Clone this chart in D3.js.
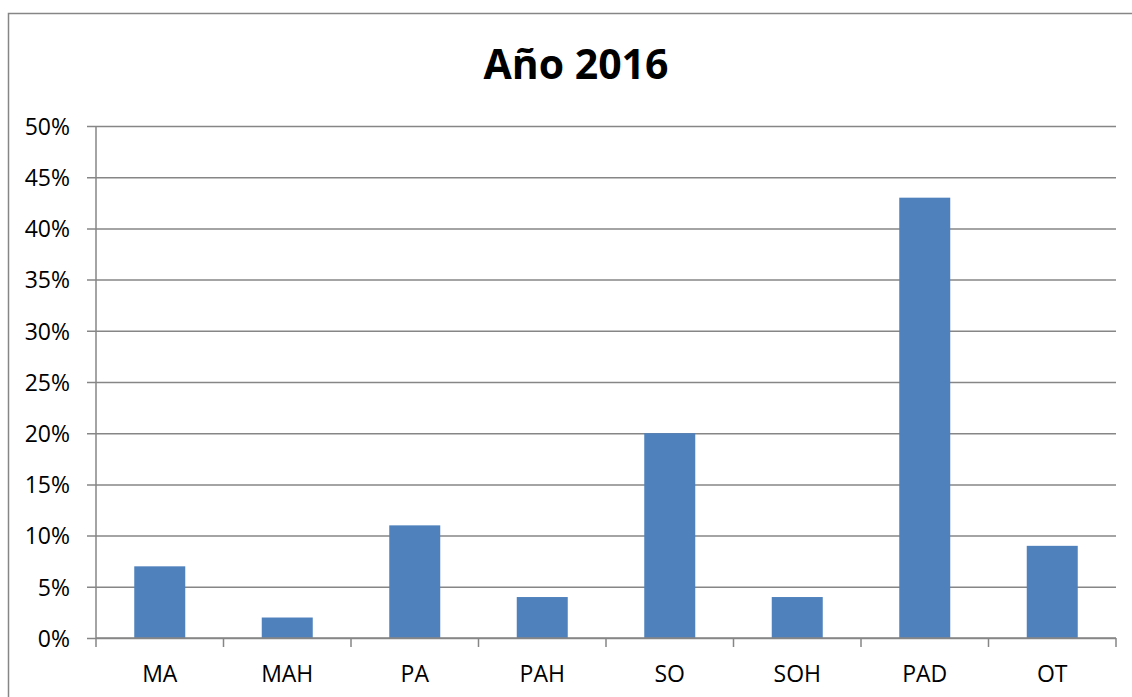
<!DOCTYPE html>
<html>
<head>
<meta charset="utf-8">
<script src="https://cdn.jsdelivr.net/npm/d3@7"></script>
<style>
  html, body { margin: 0; padding: 0; background: #ffffff; overflow: hidden; }
  svg { display: block; }
  svg text { font-family: "Open Sans", Lato, sans-serif; fill: #000; }
</style>
</head>
<body>
<div id="chart"></div>
<script>
var categories = ["MA", "MAH", "PA", "PAH", "SO", "SOH", "PAD", "OT"];
var values = [7, 2, 11, 4, 20, 4, 43, 9];
var yTicks = [0, 5, 10, 15, 20, 25, 30, 35, 40, 45, 50];
var title = "Año 2016";

var width = 1132,
    height = 697,
    gridColor = "#868686",
    barColor = "#4F81BD";

var plot = { left: 96, right: 1116, top: 126, bottom: 638 };

var svg = d3.select("#chart")
    .append("svg")
    .attr("width", width)
    .attr("height", height);

// outer chart border: only top and left edges fall inside the picture
svg.append("path")
    .attr("d", "M8.5," + height + "V13.5H" + width)
    .style("fill", "none")
    .style("stroke", gridColor)
    .style("stroke-width", "1.5px");

var x = d3.scaleBand()
    .domain(categories)
    .range([plot.left, plot.right])
    .paddingInner(0.6)
    .paddingOuter(0.3);

var y = d3.scaleLinear()
    .domain([0, 50])
    .range([plot.bottom, plot.top]);

// horizontal gridlines + y ticks
var yAxis = d3.axisLeft(y)
    .tickValues(yTicks)
    .tickSize(-(plot.right - plot.left))
    .tickPadding(26)
    .tickFormat(function (d) { return d + "%"; });

var gy = svg.append("g")
    .attr("transform", "translate(" + plot.left + ",0)")
    .call(yAxis);

gy.select(".domain").remove();
gy.selectAll(".tick line")
    .attr("x1", -9)
    .style("stroke", gridColor)
    .style("stroke-width", "1.5px");
gy.selectAll(".tick text")
    .style("font-size", "23px")
    .attr("dy", "0.36em");

// y axis line
svg.append("line")
    .attr("x1", plot.left)
    .attr("x2", plot.left)
    .attr("y1", plot.top)
    .attr("y2", plot.bottom)
    .style("stroke", gridColor)
    .style("stroke-width", "1.5px");

// bars
svg.selectAll(".bar")
    .data(values)
    .enter()
    .append("rect")
    .attr("class", "bar")
    .attr("x", function (d, i) { return x(categories[i]); })
    .attr("y", function (d) { return y(d); })
    .attr("width", x.bandwidth())
    .attr("height", function (d) { return y(0) - y(d); })
    .style("fill", barColor);

// x axis with category boundary ticks
var step = x.step();
var boundaries = d3.range(categories.length + 1).map(function (i) { return plot.left + i * step; });

svg.append("line")
    .attr("x1", plot.left)
    .attr("x2", plot.right)
    .attr("y1", plot.bottom)
    .attr("y2", plot.bottom)
    .style("stroke", gridColor)
    .style("stroke-width", "1.5px");

svg.selectAll(".xtick")
    .data(boundaries)
    .enter()
    .append("line")
    .attr("class", "xtick")
    .attr("x1", function (d) { return d; })
    .attr("x2", function (d) { return d; })
    .attr("y1", plot.bottom)
    .attr("y2", plot.bottom + 9)
    .style("stroke", gridColor)
    .style("stroke-width", "1.5px");

svg.selectAll(".xlabel")
    .data(categories)
    .enter()
    .append("text")
    .attr("class", "xlabel")
    .attr("x", function (d) { return x(d) + x.bandwidth() / 2; })
    .attr("y", 682)
    .attr("text-anchor", "middle")
    .style("font-size", "23px")
    .text(function (d) { return d; });

// title
svg.append("text")
    .attr("x", 576)
    .attr("y", 79)
    .attr("text-anchor", "middle")
    .style("font-size", "41px")
    .style("font-weight", "bold")
    .text(title);
</script>
</body>
</html>
